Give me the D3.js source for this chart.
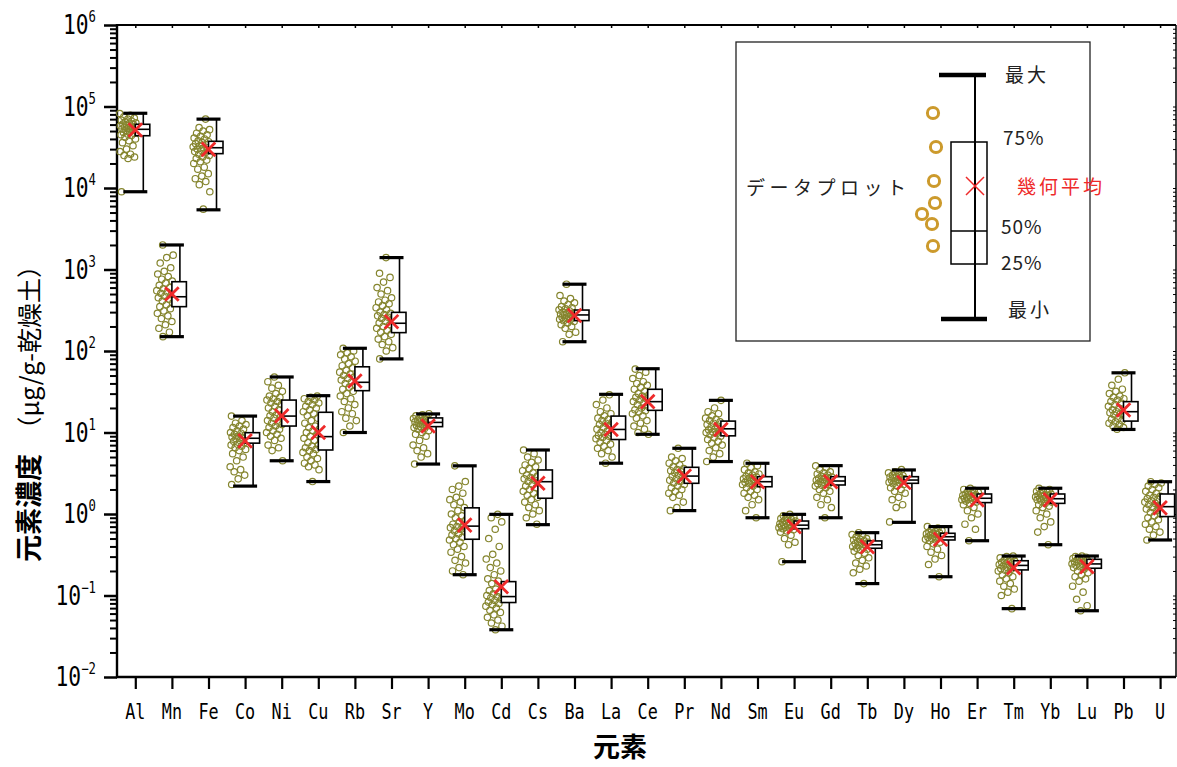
<!DOCTYPE html>
<html><head><meta charset="utf-8">
<script src="https://cdn.jsdelivr.net/npm/d3@7"></script>
<style>body{margin:0;background:#fff}</style>
</head><body>
<svg id="c" width="1177" height="767" xmlns="http://www.w3.org/2000/svg"></svg>
<script>
// ---------- DATA ----------
const elements = ["Al","Mn","Fe","Co","Ni","Cu","Rb","Sr","Y","Mo","Cd","Cs","Ba","La","Ce","Pr","Nd","Sm","Eu","Gd","Tb","Dy","Ho","Er","Tm","Yb","Lu","Pb","U"];
const minVals = [9000,150,5400,2.2,4.5,2.5,10,80,4.1,0.18,0.038,0.74,130,4.2,9.5,1.1,4.4,0.9,0.26,0.9,0.14,0.79,0.17,0.47,0.069,0.42,0.065,10.9,0.48];
const q1Vals  = [43800,350,26400,7.4,12,6.1,32.6,168,11.8,0.49,0.082,1.56,236,8.2,18.7,2.38,9.1,2.16,0.66,2.27,0.38,2.38,0.48,1.38,0.206,1.35,0.216,13.8,0.93];
const medVals = [52500,463,31200,8.5,15.9,8.9,41.3,219,13.3,0.71,0.097,2.49,277,10.9,23.9,2.92,11.1,2.49,0.73,2.54,0.42,2.61,0.526,1.56,0.234,1.54,0.244,18,1.23];
const q3Vals  = [60500,708,37400,9.95,25,17.7,64,298,15.1,1.19,0.148,3.47,318,15.9,33.9,3.74,13.8,2.87,0.82,2.87,0.467,2.87,0.58,1.76,0.267,1.76,0.278,23.9,1.76];
const maxVals = [82600,2000,70000,15.9,48,28.3,108,1400,16.9,3.9,0.99,6.1,660,29.4,60.6,6.4,24.8,4.19,0.99,3.92,0.59,3.47,0.70,2.07,0.305,2.07,0.305,54,2.49];
const geoMeans= [51500,500,29800,7.9,16,10,42.9,229,12,0.73,0.128,2.38,272,10.9,23.9,2.92,10.9,2.49,0.70,2.49,0.397,2.43,0.489,1.49,0.219,1.49,0.226,18.9,1.19];

const ptsAl = [82000,78000,75000,72000,70000,68000,66000,65000,63000,62000,61000,60000,59000,58000,57000,56000,55000,54000,53000,52000,51000,50000,49000,48000,47000,46000,45000,44000,42000,40000,38000,36000,33000,30000,28000,26000,25000,24000,23000,9000];
const ptsMn = [2000,1500,1400,1200,1050,950,880,820,760,720,680,640,600,580,550,530,510,490,470,450,430,410,390,370,350,330,310,290,270,250,230,210,190,170,150];
const ptsFe = [70000,55000,52000,50000,47000,45000,43000,41000,40000,38000,37000,36000,35000,34000,33000,32000,31000,30000,29500,29000,28000,27000,26000,25000,24000,23000,22000,21000,20000,18000,17000,15000,14000,13000,12000,11000,9000,5500];
const ptsCo = [15.9,14,13,12.5,12,11.5,11,10.5,10,9.8,9.5,9.2,9,8.8,8.6,8.4,8.2,8,7.8,7.5,7.2,7,6.8,6.5,6.2,6,5.5,5,4.5,3.8,3.5,3.3,3,2.7,2.3];
const ptsNi = [48,42,38,35,32,30,28,27,26,25,24,23,22,21,20,19,18,17,16.5,16,15.5,15,14,13.5,13,12.5,12,11.5,11,10.5,10,9.5,9,8.5,8,7,6.5,6,4.5];
const ptsCu = [28,27,26,25,24,23,22,21,20,19,18,17,16,15,14,13,12,11.5,11,10.5,10,9.5,9,8.5,8,7.5,7,6.8,6.5,6.2,6,5.7,5.5,5,4.8,4.5,4.2,4,3.8,3.5,2.5];
const ptsRb = [108,100,95,90,85,80,75,70,66,62,58,55,52,50,48,46,44,42,40,38,36,34,32,30,28,26,24,22,20,18,17,15,14,12,10];
const ptsSr = [1400,900,800,700,600,550,500,450,420,400,380,360,340,320,300,290,280,270,260,250,240,230,220,210,200,190,180,170,160,150,140,130,120,110,100,80];
const ptsY  = [17,16.5,16,15.5,15,14.8,14.5,14.2,14,13.8,13.5,13.3,13,12.8,12.5,12.2,12,11.8,11.5,11.2,11,10.5,10,9.5,9,8,7,6.5,6,5.5,5,4.1];
const ptsMo = [3.9,2.5,2.2,2.0,1.8,1.6,1.5,1.4,1.3,1.2,1.1,1.0,0.95,0.9,0.85,0.8,0.75,0.72,0.7,0.68,0.65,0.62,0.6,0.57,0.55,0.52,0.5,0.48,0.45,0.42,0.4,0.37,0.34,0.3,0.27,0.25,0.22,0.2,0.18];
const ptsCd = [0.99,0.9,0.8,0.65,0.5,0.4,0.32,0.28,0.25,0.22,0.2,0.18,0.16,0.15,0.14,0.13,0.12,0.115,0.11,0.105,0.1,0.097,0.094,0.09,0.087,0.083,0.08,0.077,0.074,0.07,0.066,0.062,0.058,0.054,0.05,0.046,0.042,0.038];
const ptsCs = [6.1,5.5,5,4.6,4.3,4,3.8,3.6,3.4,3.2,3,2.9,2.8,2.7,2.6,2.5,2.4,2.3,2.2,2.1,2,1.9,1.8,1.7,1.6,1.5,1.4,1.3,1.2,1.1,1.0,0.9,0.75];
const ptsBa = [660,480,440,410,390,370,350,340,330,320,310,300,295,290,285,280,275,270,265,260,255,250,245,240,235,230,220,210,200,190,170,160,130];
const ptsLa = [29,25,22,20,18,17,16,15,14.5,14,13.5,13,12.5,12,11.5,11,10.5,10,9.8,9.5,9.2,9,8.7,8.4,8,7.6,7.2,6.8,6.4,6,5.5,5,4.2];
const ptsCe = [60,55,50,46,42,40,38,36,34,32,30,29,28,27,26,25,24,23,22,21,20,19,18.5,18,17,16,15,14,13,12,11,10,9.5];
const ptsPr = [6.4,5,4.8,4.5,4.2,4,3.8,3.6,3.5,3.4,3.3,3.2,3.1,3,2.9,2.8,2.7,2.6,2.5,2.4,2.3,2.2,2.1,2,1.9,1.8,1.7,1.6,1.4,1.2,1.1];
const ptsNd = [24.8,20,18,17,16,15,14.5,14,13.5,13,12.5,12,11.7,11.4,11.1,10.8,10.5,10.2,10,9.7,9.4,9,8.6,8.2,7.8,7.4,7,6.5,6,5.5,5,4.4];
const ptsSm = [4.2,3.9,3.7,3.5,3.3,3.2,3.1,3.0,2.9,2.85,2.8,2.7,2.65,2.6,2.55,2.5,2.45,2.4,2.35,2.3,2.2,2.1,2,1.9,1.8,1.7,1.6,1.5,1.3,1.1,0.9];
const ptsEu = [0.99,0.95,0.92,0.9,0.88,0.86,0.84,0.82,0.8,0.79,0.78,0.77,0.76,0.75,0.74,0.73,0.72,0.71,0.7,0.69,0.68,0.67,0.66,0.64,0.62,0.6,0.55,0.5,0.45,0.42,0.26];
const ptsGd = [3.9,3.7,3.5,3.3,3.2,3.1,3.0,2.9,2.85,2.8,2.75,2.7,2.65,2.6,2.55,2.5,2.45,2.4,2.35,2.3,2.25,2.2,2.1,2,1.9,1.8,1.6,1.5,1.3,1.2,0.9];
const ptsTb = [0.59,0.56,0.54,0.52,0.5,0.49,0.48,0.47,0.46,0.45,0.44,0.43,0.42,0.41,0.4,0.39,0.38,0.37,0.36,0.35,0.33,0.31,0.29,0.27,0.25,0.23,0.21,0.19,0.14];
const ptsDy = [3.5,3.3,3.2,3.1,3.0,2.95,2.9,2.85,2.8,2.75,2.7,2.65,2.6,2.55,2.5,2.45,2.4,2.35,2.3,2.2,2.1,2.0,1.9,1.8,1.6,1.5,1.3,1.2,0.8];
const ptsHo = [0.7,0.67,0.65,0.63,0.61,0.6,0.59,0.58,0.57,0.56,0.55,0.54,0.53,0.52,0.51,0.5,0.49,0.48,0.47,0.45,0.43,0.4,0.37,0.34,0.31,0.28,0.24,0.17];
const ptsEr = [2.07,2.0,1.95,1.9,1.85,1.8,1.76,1.72,1.7,1.68,1.65,1.62,1.6,1.58,1.56,1.54,1.52,1.5,1.47,1.44,1.4,1.35,1.3,1.2,1.1,1.0,0.9,0.75,0.65,0.47];
const ptsTm = [0.305,0.3,0.29,0.28,0.27,0.265,0.26,0.255,0.25,0.245,0.24,0.235,0.23,0.225,0.22,0.215,0.21,0.205,0.2,0.19,0.18,0.17,0.16,0.15,0.14,0.13,0.12,0.11,0.1,0.069];
const ptsYb = [2.07,2.0,1.95,1.9,1.85,1.8,1.76,1.72,1.7,1.68,1.65,1.62,1.6,1.57,1.54,1.52,1.5,1.47,1.44,1.4,1.35,1.3,1.25,1.2,1.1,1.0,0.9,0.8,0.7,0.6,0.42];
const ptsLu = [0.305,0.3,0.295,0.29,0.285,0.28,0.275,0.27,0.265,0.26,0.255,0.25,0.245,0.24,0.235,0.23,0.225,0.22,0.21,0.2,0.19,0.18,0.17,0.16,0.15,0.13,0.11,0.09,0.075,0.065];
const ptsPb = [54,45,38,34,32,30,28,27,26,25,24,23,22,21,20,19,18.5,18,17.5,17,16.5,16,15,14.5,14,13.5,13,12.5,12,11.5,11];
const ptsU  = [2.49,2.4,2.3,2.2,2.1,2.0,1.9,1.8,1.7,1.65,1.6,1.55,1.5,1.45,1.4,1.35,1.3,1.25,1.2,1.15,1.1,1.05,1.0,0.95,0.9,0.85,0.8,0.75,0.7,0.65,0.6,0.55,0.48];
const pointSeries = [ptsAl,ptsMn,ptsFe,ptsCo,ptsNi,ptsCu,ptsRb,ptsSr,ptsY,ptsMo,ptsCd,ptsCs,ptsBa,ptsLa,ptsCe,ptsPr,ptsNd,ptsSm,ptsEu,ptsGd,ptsTb,ptsDy,ptsHo,ptsEr,ptsTm,ptsYb,ptsLu,ptsPb,ptsU];

const yTickExps = [-2,-1,0,1,2,3,4,5,6];
const yTitleMain = "元素濃度";
const yTitleUnit = "　（μg/g-乾燥土）";
const xTitle = "元素";
const legendLabels = {max:"最大", q3:"75%", mean:"幾何平均", med:"50%", q1:"25%", min:"最小", pts:"データプロット"};

// ---------- LAYOUT ----------
const L = 117, R = 1176, T = 25, B = 677;
const svg = d3.select("#c");
const x = d3.scalePoint().domain(elements).range([L, 1178.4]).padding(0.5);
const y = d3.scaleLog().domain([1e-2, 1e6]).range([B, T]);
const monoFont = "'DejaVu Sans Mono', 'Liberation Mono', monospace";
const jpFont = "'Noto Sans CJK JP', 'Noto Sans', sans-serif";
const ptColor = "#85852e", redColor = "#ee2a2a", goldColor = "#cc9a2c";

// ---------- AXES ----------
const allTicks = y.ticks();
const isMajor = v => Math.abs(Math.log10(v) - Math.round(Math.log10(v))) < 1e-9;
const majorTicks = allTicks.filter(isMajor);
const minorTicks = allTicks.filter(v => !isMajor(v));

const gMinor = svg.append("g").attr("transform", `translate(${L},0)`)
  .call(d3.axisLeft(y).tickValues(minorTicks).tickSize(7).tickFormat(""));
gMinor.select(".domain").remove();
gMinor.selectAll("line").attr("stroke", "#000").attr("stroke-width", 2);

const gMajor = svg.append("g").attr("transform", `translate(${L},0)`)
  .call(d3.axisLeft(y).tickValues(majorTicks).tickSize(13).tickFormat(""));
gMajor.select(".domain").remove();
gMajor.selectAll("line").attr("stroke", "#000").attr("stroke-width", 2.5);

const gRight = svg.append("g").attr("transform", `translate(${R},0)`)
  .call(d3.axisRight(y).tickValues(allTicks).tickSize(-3).tickFormat(""));
gRight.select(".domain").remove();
gRight.selectAll("line").attr("stroke", "#000").attr("stroke-width", 1);

const gBot = svg.append("g").attr("transform", `translate(0,${B})`)
  .call(d3.axisBottom(x).tickSize(12).tickFormat(""));
gBot.select(".domain").remove();
gBot.selectAll("line").attr("stroke", "#000").attr("stroke-width", 2.2);

const gTop = svg.append("g").attr("transform", `translate(0,${T})`)
  .call(d3.axisTop(x).tickSize(-3).tickFormat(""));
gTop.select(".domain").remove();
gTop.selectAll("line").attr("stroke", "#000").attr("stroke-width", 1.5);

// frame
svg.append("line").attr("x1", L).attr("x2", L).attr("y1", T - 1).attr("y2", B + 1).attr("stroke", "#000").attr("stroke-width", 2.4);
svg.append("line").attr("x1", L - 1).attr("x2", R).attr("y1", B).attr("y2", B).attr("stroke", "#000").attr("stroke-width", 2.4);
svg.append("line").attr("x1", L).attr("x2", R).attr("y1", T).attr("y2", T).attr("stroke", "#000").attr("stroke-width", 2);
svg.append("line").attr("x1", R).attr("x2", R).attr("y1", T).attr("y2", B).attr("stroke", "#000").attr("stroke-width", 1.5);

// y tick labels
yTickExps.forEach(e => {
  const t = svg.append("text")
    .attr("transform", `translate(96,${y(Math.pow(10, e)) + 9}) scale(0.82,1)`)
    .attr("text-anchor", "end").attr("font-family", monoFont).attr("font-size", 26).attr("fill", "#000");
  t.append("tspan").text("10");
  t.append("tspan").attr("font-size", 15).attr("dy", -12).text(e < 0 ? "\u2212" + Math.abs(e) : String(e));
});

// x tick labels
elements.forEach(el => {
  svg.append("text")
    .attr("transform", `translate(${x(el)},${719}) scale(0.8,1)`)
    .attr("text-anchor", "middle").attr("font-family", monoFont).attr("font-size", 21).attr("fill", "#000")
    .text(el);
});

// axis titles
const yt = svg.append("text")
  .attr("transform", "translate(39,562) rotate(-90)")
  .attr("font-family", jpFont).attr("font-size", 27).attr("fill", "#000");
yt.append("tspan").attr("font-weight", "bold").text(yTitleMain);
yt.append("tspan").attr("font-size", 25).text(yTitleUnit);

svg.append("text").attr("x", 620).attr("y", 757).attr("text-anchor", "middle")
  .attr("font-family", jpFont).attr("font-size", 27).attr("font-weight", "bold").attr("fill", "#000").text(xTitle);

// ---------- MARKS ----------
const gPlot = svg.append("g");
pointSeries.forEach((arr, gi) => {
  const cx = x(elements[gi]);
  gPlot.append("g").selectAll("circle").data(arr).join("circle")
    .attr("cx", (d, i) => cx - 15.5 + ((i * 0.6180339887 + gi * 0.37) % 1) * 17)
    .attr("cy", d => y(d))
    .attr("r", 3.2)
    .attr("fill", "none").attr("stroke", ptColor).attr("stroke-width", 1.2);
});

elements.forEach((el, i) => {
  const c = x(el);
  const g = gPlot.append("g");
  g.append("line").attr("x1", c + 8).attr("x2", c + 8).attr("y1", y(maxVals[i])).attr("y2", y(minVals[i]))
    .attr("stroke", "#000").attr("stroke-width", 1.6);
  [maxVals[i], minVals[i]].forEach(v => {
    g.append("line").attr("x1", c - 12).attr("x2", c + 12).attr("y1", y(v)).attr("y2", y(v))
      .attr("stroke", "#000").attr("stroke-width", 3.2);
  });
  g.append("rect").attr("x", c).attr("width", 14.5)
    .attr("y", y(q3Vals[i])).attr("height", y(q1Vals[i]) - y(q3Vals[i]))
    .attr("fill", "#fff").attr("stroke", "#000").attr("stroke-width", 1.6);
  g.append("line").attr("x1", c).attr("x2", c + 14.5).attr("y1", y(medVals[i])).attr("y2", y(medVals[i]))
    .attr("stroke", "#000").attr("stroke-width", 1.6);
  const my = y(geoMeans[i]), s = 6.8;
  g.append("path").attr("d", `M${c - s},${my - s}L${c + s},${my + s}M${c - s},${my + s}L${c + s},${my - s}`)
    .attr("stroke", redColor).attr("stroke-width", 2.8).attr("fill", "none");
});

// ---------- LEGEND ----------
const lg = svg.append("g");
lg.append("rect").attr("x", 736).attr("y", 42).attr("width", 354).attr("height", 299)
  .attr("fill", "#fff").attr("stroke", "#222").attr("stroke-width", 1.3);
lg.append("line").attr("x1", 975).attr("x2", 975).attr("y1", 75).attr("y2", 319).attr("stroke", "#000").attr("stroke-width", 2);
lg.append("line").attr("x1", 939).attr("x2", 986).attr("y1", 75).attr("y2", 75).attr("stroke", "#000").attr("stroke-width", 4.5);
lg.append("line").attr("x1", 941).attr("x2", 987).attr("y1", 319).attr("y2", 319).attr("stroke", "#000").attr("stroke-width", 4.5);
lg.append("rect").attr("x", 951).attr("y", 142).attr("width", 36).attr("height", 122)
  .attr("fill", "none").attr("stroke", "#000").attr("stroke-width", 1.5);
lg.append("line").attr("x1", 951).attr("x2", 987).attr("y1", 231).attr("y2", 231).attr("stroke", "#000").attr("stroke-width", 1.5);
lg.append("path").attr("d", "M966,177L984,195M966,195L984,177").attr("stroke", redColor).attr("stroke-width", 1.5).attr("fill", "none");
[[933,113],[936,147],[934,181],[935,203],[922,214],[932,224],[933,246]].forEach(([cx, cy]) => {
  lg.append("circle").attr("cx", cx).attr("cy", cy).attr("r", 5.6).attr("fill", "none").attr("stroke", goldColor).attr("stroke-width", 3);
});
const lt = (txt, xx, yy, col, ls) => lg.append("text").attr("x", xx).attr("y", yy)
  .attr("font-family", jpFont).attr("font-size", 19).attr("fill", col || "#222")
  .attr("letter-spacing", ls || 0).text(txt);
lt(legendLabels.max, 1005, 82, null, 3);
lt(legendLabels.q3, 1003, 145, null, 1);
lt(legendLabels.mean, 1017, 194, redColor, 3);
lt(legendLabels.med, 1001, 234, null, 1);
lt(legendLabels.q1, 1001, 270, null, 1);
lt(legendLabels.min, 1008, 317, null, 3);
lt(legendLabels.pts, 746, 195, null, 4.5);
</script>
</body></html>
